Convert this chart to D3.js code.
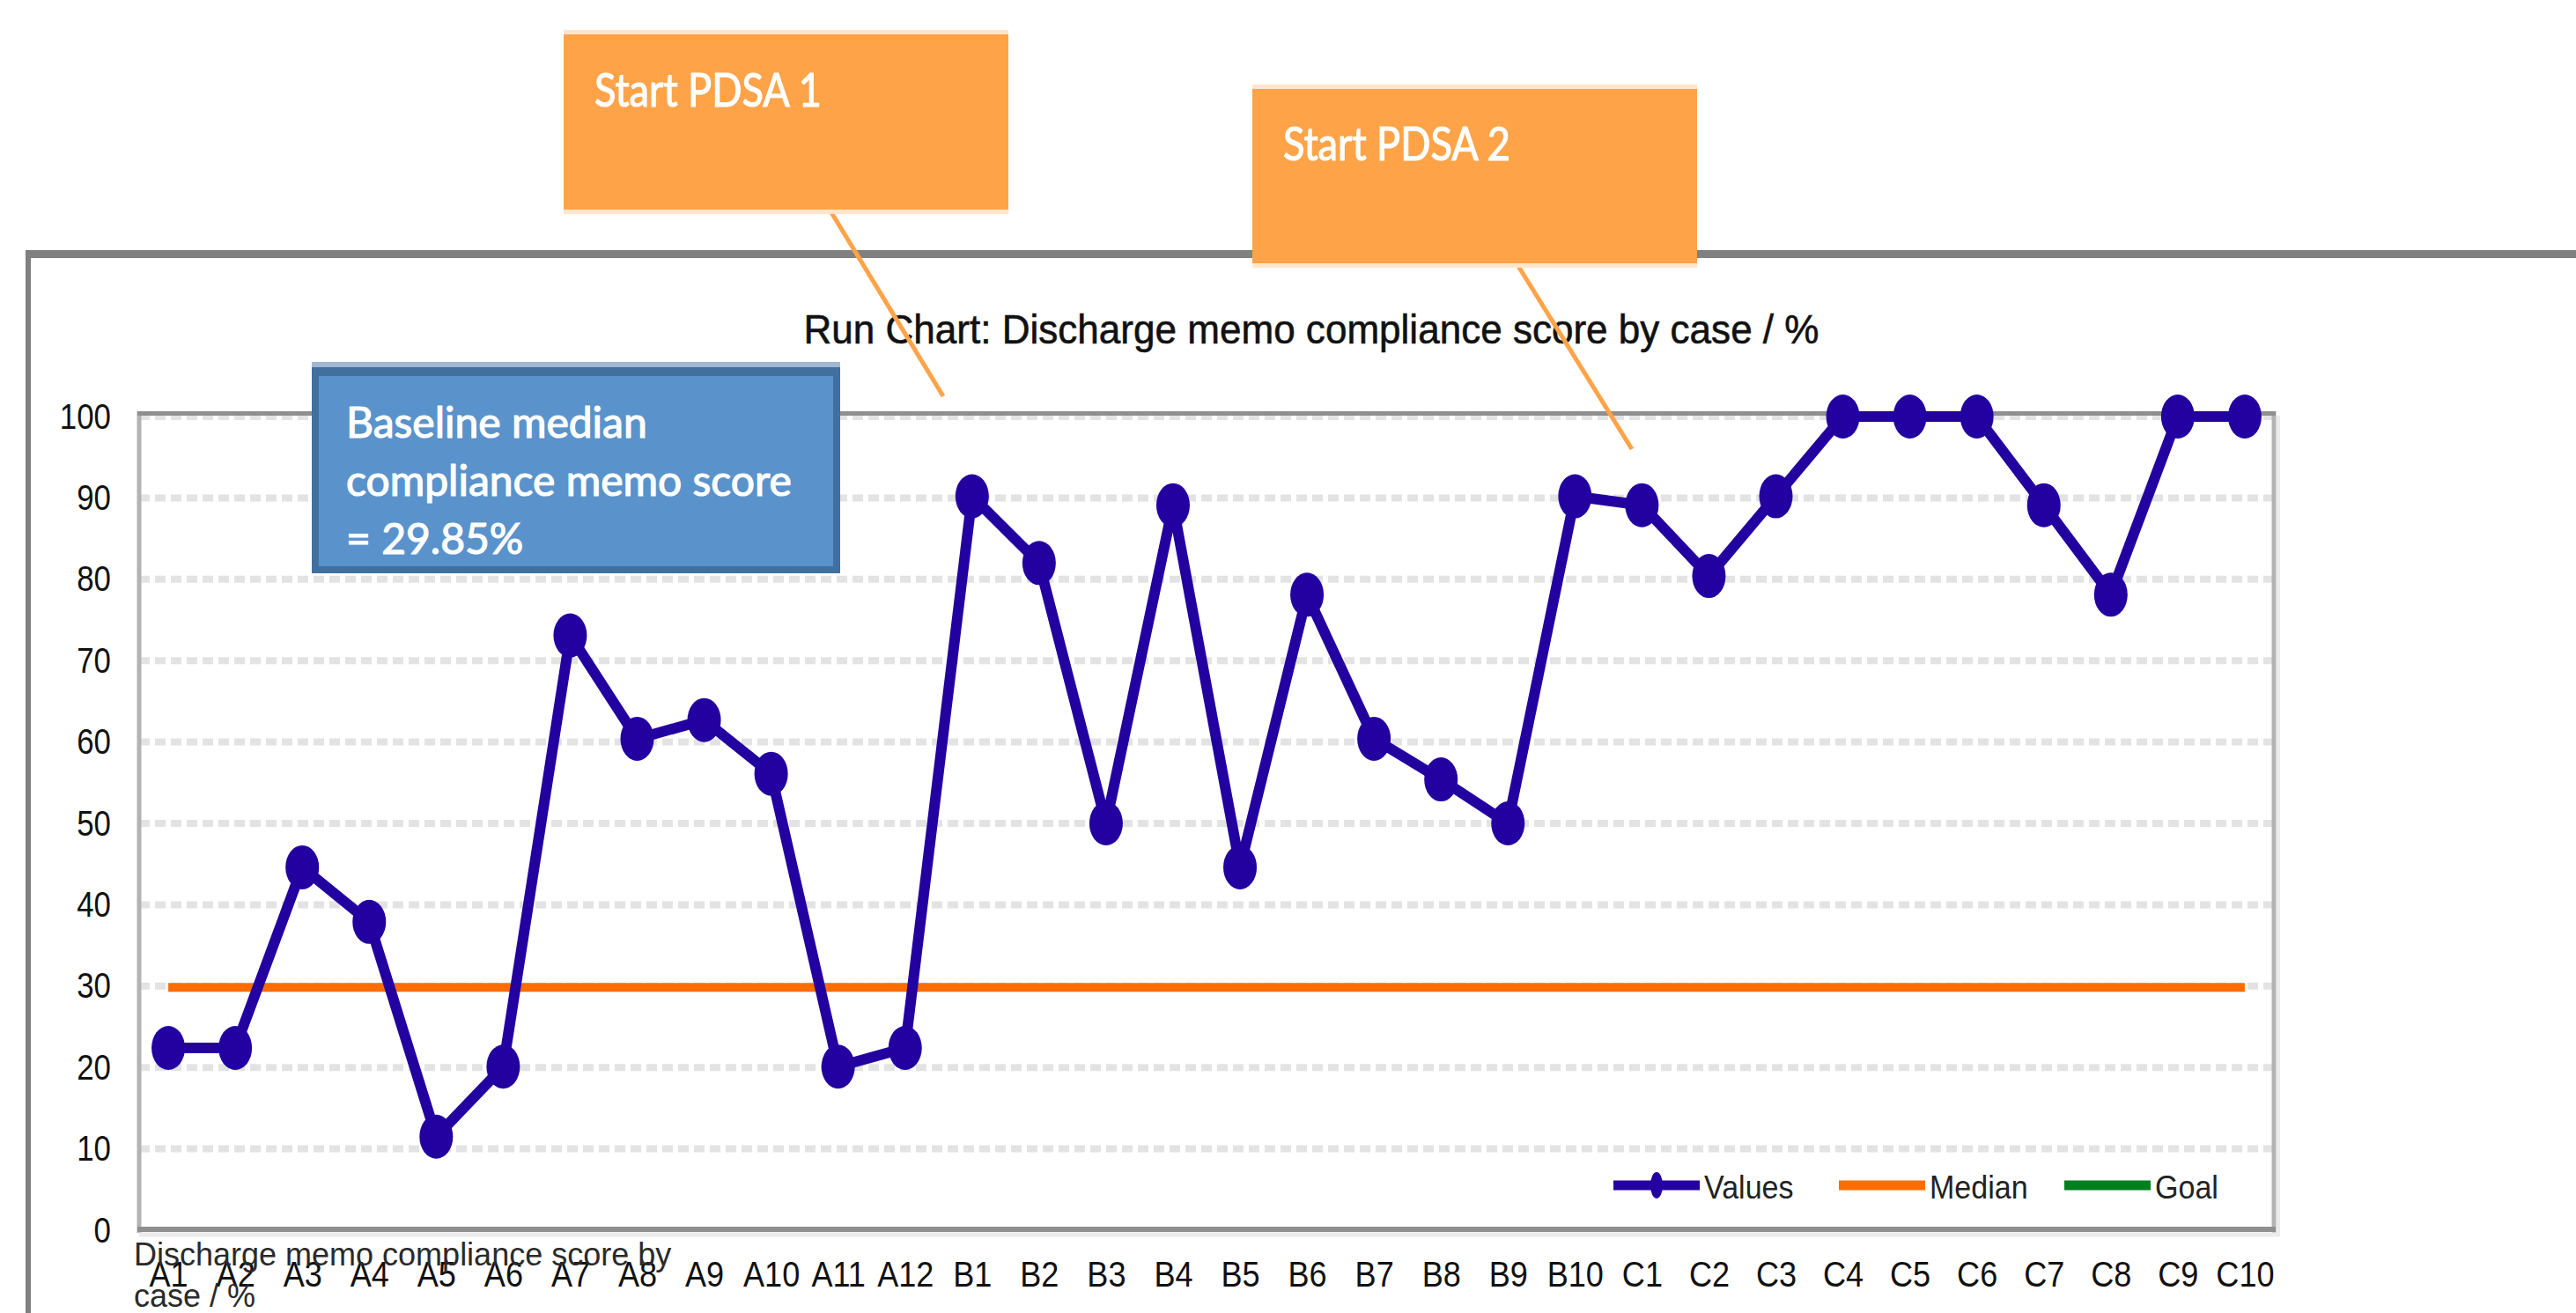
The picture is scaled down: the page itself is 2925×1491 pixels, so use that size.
<!DOCTYPE html>
<html>
<head>
<meta charset="utf-8">
<script src="https://cdn.jsdelivr.net/npm/d3@7"></script>
<style>
body { margin: 0; background: #fff; }
</style>
</head>
<body>
<div id="runchart-area"></div>
<script>
// data
var cases = ["A1","A2","A3","A4","A5","A6","A7","A8","A9","A10","A11","A12",
             "B1","B2","B3","B4","B5","B6","B7","B8","B9","B10",
             "C1","C2","C3","C4","C5","C6","C7","C8","C9","C10"];
var scores = [22.4, 22.4, 44.6, 37.9, 11.5, 20.1, 73.1, 60.4, 62.7, 56.1, 20.1, 22.4,
              90.2, 82, 50, 89.1, 44.6, 78.1, 60.4, 55.4, 50, 90.2,
              89.1, 80.4, 90.2, 100, 100, 100, 89.1, 78.1, 100, 100];
var medianScore = 29.85;
var yTicks = [0, 10, 20, 30, 40, 50, 60, 70, 80, 90, 100];
var legendNames = ["Values", "Median", "Goal"];
var legendColors = ["#2300a0", "#ff6d00", "#00801f"];
var chartTitle = "Run Chart: Discharge memo compliance score by case / %";
var axisTitle = ["Discharge memo compliance score by", "case / %"];
var pdsaLabels = ["Start PDSA 1", "Start PDSA 2"];
var baselineLines = ["Baseline median", "compliance memo score", "= 29.85%"];

var W = 2925, H = 1491;
var plot = {left: 158, right: 2582, top: 473, bottom: 1397};

var svg = d3.select("#runchart-area")
  .append("svg")
    .attr("width", W)
    .attr("height", H);

svg.append("rect").attr("width", W).attr("height", H).attr("fill", "#fff");

// squeeze text horizontally like the original (narrow look)
function squeeze(sel, k) {
  sel.each(function() {
    var n = this.getComputedTextLength();
    d3.select(this).attr("textLength", n * k).attr("lengthAdjust", "spacingAndGlyphs");
  });
}

// outer frame of the pasted chart
svg.append("line")
  .attr("x1", 29).attr("x2", W).attr("y1", 288.5).attr("y2", 288.5)
  .attr("stroke", "#808080").attr("stroke-width", 9);
svg.append("line")
  .attr("x1", 32).attr("x2", 32).attr("y1", 284).attr("y2", H)
  .attr("stroke", "#808080").attr("stroke-width", 6);

// title
svg.append("text")
  .attr("x", 1489).attr("y", 390)
  .attr("text-anchor", "middle")
  .attr("font-family", "'Liberation Sans', Arial, sans-serif")
  .attr("font-size", "46px")
  .attr("fill", "#111")
  .attr("stroke", "#111").attr("stroke-width", 0.6)
  .attr("textLength", 1153).attr("lengthAdjust", "spacingAndGlyphs")
  .text(chartTitle);

// scales
var x = d3.scalePoint()
  .domain(cases)
  .range([plot.left, plot.right])
  .padding(0.435);

var y = d3.scaleLinear()
  .domain([0, 100])
  .range([plot.bottom, plot.top]);

// gridlines
svg.append("g")
  .selectAll("line")
  .data(yTicks.filter(function(t) { return t > 0; }))
  .enter()
  .append("line")
    .attr("x1", plot.left).attr("x2", plot.right)
    .attr("y1", function(d) { return y(d); })
    .attr("y2", function(d) { return y(d); })
    .attr("stroke", "#e3e3e3")
    .attr("stroke-width", 8)
    .attr("stroke-dasharray", "12,6");

// plot area border
svg.append("line").attr("x1", plot.left).attr("x2", plot.left).attr("y1", 467).attr("y2", 1400)
  .attr("stroke", "#b3b3b3").attr("stroke-width", 5);
svg.append("line").attr("x1", plot.right).attr("x2", plot.right).attr("y1", 467).attr("y2", 1400)
  .attr("stroke", "#b3b3b3").attr("stroke-width", 5);
svg.append("line").attr("x1", plot.right + 5).attr("x2", plot.right + 5).attr("y1", 472).attr("y2", 1404)
  .attr("stroke", "#ececec").attr("stroke-width", 4);
svg.append("line").attr("x1", plot.left - 2).attr("x2", plot.right + 2).attr("y1", 469.5).attr("y2", 469.5)
  .attr("stroke", "#8f8f8f").attr("stroke-width", 5);
svg.append("line").attr("x1", plot.left - 2).attr("x2", plot.right + 2).attr("y1", 1396).attr("y2", 1396)
  .attr("stroke", "#8f8f8f").attr("stroke-width", 6);
svg.append("line").attr("x1", plot.left).attr("x2", plot.right + 5).attr("y1", 1402).attr("y2", 1402)
  .attr("stroke", "#ececec").attr("stroke-width", 5);

// y axis labels
var yAxis = svg.append("g")
  .attr("transform", "translate(126,0)")
  .call(d3.axisLeft(y).tickValues(yTicks).tickSize(0).tickPadding(0));
yAxis.select(".domain").remove();
yAxis.selectAll("text")
  .attr("font-family", "'Liberation Sans', Arial, sans-serif")
  .attr("font-size", "41px")
  .attr("fill", "#111")
  .call(squeeze, 0.85);

// x axis labels
var xAxis = svg.append("g")
  .attr("transform", "translate(0,1432)")
  .call(d3.axisBottom(x).tickSize(0).tickPadding(0));
xAxis.select(".domain").remove();
xAxis.selectAll("text")
  .attr("font-family", "'Liberation Sans', Arial, sans-serif")
  .attr("font-size", "41px")
  .attr("fill", "#111")
  .call(squeeze, 0.88);

// axis title that sits over the first labels (overlaps them in the original too)
svg.append("g")
  .selectAll("text")
  .data(axisTitle)
  .enter()
  .append("text")
    .attr("x", 152)
    .attr("y", function(d, i) { return 1437 + i * 47; })
    .attr("font-family", "'Liberation Sans', Arial, sans-serif")
    .attr("font-size", "36px")
    .attr("fill", "#2a2a2a")
    .text(function(d) { return d; })
    .call(squeeze, 1.0);

// median line
var medianLine = d3.line()
  .x(function(d) { return x(d); })
  .y(function() { return y(medianScore); });

svg.append("path")
  .datum(cases)
  .attr("d", medianLine)
  .attr("fill", "none")
  .attr("stroke", legendColors[1])
  .attr("stroke-width", 10);

// values line + markers
var valueLine = d3.line()
  .x(function(d, i) { return x(cases[i]); })
  .y(function(d) { return y(d); });

svg.append("path")
  .datum(scores)
  .attr("d", valueLine)
  .attr("fill", "none")
  .attr("stroke", legendColors[0])
  .attr("stroke-width", 12)
  .attr("stroke-linejoin", "round");

svg.append("g")
  .selectAll("ellipse")
  .data(scores)
  .enter()
  .append("ellipse")
    .attr("cx", function(d, i) { return x(cases[i]); })
    .attr("cy", function(d) { return y(d); })
    .attr("rx", 19)
    .attr("ry", 25)
    .attr("fill", legendColors[0]);

// legend
var legend = svg.append("g")
  .selectAll("g")
  .data(legendNames)
  .enter()
  .append("g")
    .attr("transform", function(d, i) { return "translate(" + (1832 + i * 256) + ",1346)"; });

legend.append("line")
  .attr("x1", 0).attr("x2", 98)
  .attr("stroke", function(d, i) { return legendColors[i]; })
  .attr("stroke-width", 11);

legend.filter(function(d, i) { return i === 0; })
  .append("ellipse")
    .attr("cx", 49).attr("rx", 7).attr("ry", 15)
    .attr("fill", legendColors[0]);

legend.append("text")
  .attr("x", 103)
  .attr("y", 15)
  .attr("font-family", "'Liberation Sans', Arial, sans-serif")
  .attr("font-size", "37px")
  .attr("fill", "#222")
  .text(function(d) { return d; })
  .call(squeeze, 0.92);

// PDSA callouts
var pdsaBoxes = [
  {x: 640, y: 39, w: 505, h: 199, tx: 675, ty: 121, tw: 258, lx1: 942, ly1: 238, lx2: 1071, ly2: 450},
  {x: 1422, y: 101, w: 505, h: 198, tx: 1457, ty: 182, tw: 258, lx1: 1722, ly1: 299, lx2: 1853, ly2: 510}
];

pdsaBoxes.forEach(function(b, i) {
  svg.append("line")
    .attr("x1", b.lx1).attr("y1", b.ly1).attr("x2", b.lx2).attr("y2", b.ly2)
    .attr("stroke", "#ffa348").attr("stroke-width", 5);
  svg.append("rect")
    .attr("x", b.x).attr("y", b.y - 5).attr("width", b.w).attr("height", b.h + 10)
    .attr("fill", "#ffe5cc");
  svg.append("rect")
    .attr("x", b.x).attr("y", b.y).attr("width", b.w).attr("height", b.h)
    .attr("fill", "#ffa348");
  svg.append("text")
    .attr("x", b.tx).attr("y", b.ty)
    .attr("font-family", "Lato, 'Open Sans', sans-serif")
    .attr("font-size", "52px")
    .attr("fill", "#fff")
    .attr("stroke", "#fff").attr("stroke-width", 1.2)
    .attr("textLength", b.tw).attr("lengthAdjust", "spacingAndGlyphs")
    .text(pdsaLabels[i]);
});

// baseline median callout
svg.append("rect")
  .attr("x", 354).attr("y", 411).attr("width", 600).attr("height", 8)
  .attr("fill", "#a0b8d0");
svg.append("rect")
  .attr("x", 354).attr("y", 417).attr("width", 600).attr("height", 234)
  .attr("fill", "#41709f");
svg.append("rect")
  .attr("x", 362).attr("y", 427).attr("width", 584).attr("height", 216)
  .attr("fill", "#5a93cb");

svg.append("g")
  .selectAll("text")
  .data(baselineLines)
  .enter()
  .append("text")
    .attr("x", 393)
    .attr("y", function(d, i) { return 497 + i * 66; })
    .attr("font-family", "Lato, 'Open Sans', sans-serif")
    .attr("font-size", "48px")
    .attr("fill", "#fff")
    .attr("stroke", "#fff").attr("stroke-width", 1.2)
    .text(function(d) { return d; })
    .call(squeeze, 1.0);
</script>
</body>
</html>
